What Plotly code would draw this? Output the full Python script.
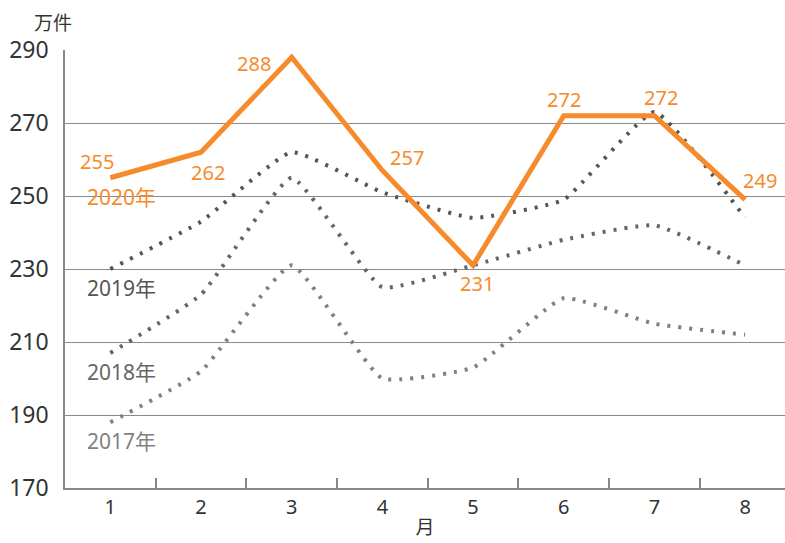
import plotly.graph_objects as go

months = ["1", "2", "3", "4", "5", "6", "7", "8"]
s2020 = [255, 262, 288, 257, 231, 272, 272, 249]
s2019 = [230, 243, 262, 251, 244, 249, 273, 244]
s2018 = [207, 223, 255, 225, 231, 238, 242, 231]
s2017 = [188, 202, 231, 200, 203, 222, 215, 212]
y_ticks = [170, 190, 210, 230, 250, 270, 290]

FONT = "Noto Sans, Noto Sans CJK JP"
ORANGE = "#F68B2C"

fig = go.Figure()
dotted = [
    ("2017年", s2017, "#808080"),
    ("2018年", s2018, "#666666"),
    ("2019年", s2019, "#555555"),
]
for name, vals, col in dotted:
    fig.add_trace(go.Scatter(
        x=months, y=vals, mode="lines", name=name,
        line=dict(color=col, width=4, dash="3px,8px", shape="spline", smoothing=0.4),
        hoverinfo="skip"))
fig.add_trace(go.Scatter(
    x=months, y=s2020, mode="lines", name="2020年",
    line=dict(color=ORANGE, width=5), hoverinfo="skip"))

# data labels for 2020
dx = [-13, 7, -38, 25, 4, 0, 7, 15]
dy = [16, -20, -6, 13, -18, 16, 18, 19]
for i, (v, sx, sy) in enumerate(zip(s2020, dx, dy)):
    fig.add_annotation(x=i, y=v, text=str(v), showarrow=False,
                       xshift=sx, yshift=sy,
                       font=dict(family=FONT, size=20, color=ORANGE))

# series labels
for name, vals, col in [("2020年", s2020, ORANGE)] + [(n, v, c) for n, v, c in dotted]:
    fig.add_annotation(x=0, y=vals[0], text=name, showarrow=False,
                       xanchor="left", xshift=-25, yshift=-19,
                       font=dict(family=FONT, size=21, color=col))

fig.add_annotation(x=-0.017, y=1.0, xref="paper", yref="paper", yshift=27,
                   yanchor="middle",
                   text="万件", showarrow=False, xanchor="center",
                   font=dict(family=FONT, size=19, color="#333333"))

fig.update_layout(
    width=785, height=543,
    margin=dict(l=65, r=0, t=50, b=55),
    paper_bgcolor="white", plot_bgcolor="white",
    showlegend=False,
    font=dict(family=FONT, color="#333333"),
)
fig.update_xaxes(
    type="category", categoryorder="array", categoryarray=months,
    range=[-0.5, 7.44],
    showline=True, linecolor="#888888", linewidth=1.5,
    ticks="inside", tickson="boundaries", ticklen=10, tickcolor="#888888", tickwidth=1.5,
    showgrid=False,
    tickfont=dict(family=FONT, size=20, color="#333333"),
    title=dict(text="月", font=dict(family=FONT, size=19, color="#333333"), standoff=2),
)
fig.update_yaxes(
    range=[170, 290], tickvals=y_ticks,
    showline=True, linecolor="#888888", linewidth=1.5,
    showgrid=True, gridcolor="#8a8a8a", gridwidth=1,
    zeroline=False, ticks="",
    ticklabelstandoff=10,
    tickfont=dict(family=FONT, size=23, color="#333333"),
)

fig.write_html("out.html")
